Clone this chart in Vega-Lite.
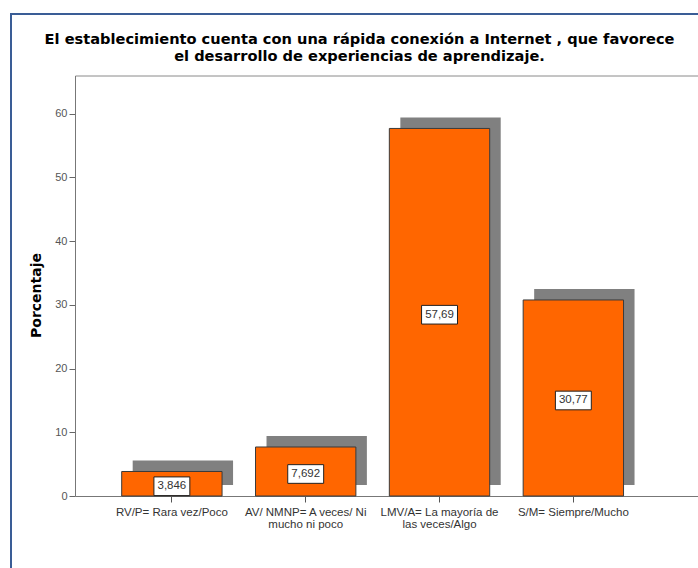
{
  "$schema": "https://vega.github.io/schema/vega-lite/v6.json",
  "width": 698,
  "height": 568,
  "autosize": {"type": "fit", "contains": "padding"},
  "padding": {"left": 11, "top": 14, "right": -10, "bottom": -10},
  "background": "white",
  "title": {
    "text": ["El establecimiento cuenta con una rápida conexión a Internet , que favorece", "el desarrollo de experiencias de aprendizaje."],
    "font": "DejaVu Sans",
    "fontSize": 14.6,
    "fontWeight": "bold",
    "color": "black",
    "anchor": "middle",
    "frame": "group",
    "offset": -50,
    "lineHeight": 17
  },
  "config": {
    "view": {"stroke": "#3a5d96", "strokeWidth": 2},
    "font": "Liberation Sans"
  },
  "data": {
    "values": [
      {"cat": "RV/P= Rara vez/Poco", "value": 3.846, "label": "3,846"},
      {"cat": "AV/ NMNP= A veces/ Ni\nmucho ni poco", "value": 7.692, "label": "7,692"},
      {"cat": "LMV/A= La mayoría de\nlas veces/Algo", "value": 57.69, "label": "57,69"},
      {"cat": "S/M= Siempre/Mucho", "value": 30.77, "label": "30,77"}
    ]
  },
  "resolve": {
    "scale": {"y": "independent"},
    "axis": {"x": "independent", "y": "independent"}
  },
  "layer": [
    {
      "mark": {"type": "bar", "color": "#808080", "xOffset": 11, "x2Offset": 11, "yOffset": -11, "y2Offset": -11},
      "encoding": {
        "x": {
          "field": "cat", "type": "nominal", "sort": null,
          "scale": {"range": [64, 697], "paddingInner": 0.25, "paddingOuter": 0.49, "align": 0.356},
          "axis": {"orient": "top", "offset": -61.5, "ticks": false, "labels": false, "domainColor": "#8a8a8a", "domainWidth": 1, "title": null, "grid": false}
        },
        "y": {
          "field": "value", "type": "quantitative",
          "scale": {"domain": [0, 66], "range": [482, 61.5], "nice": false},
          "axis": null
        }
      }
    },
    {
      "mark": {"type": "bar", "color": "#FF6600", "stroke": "#3a3a3a", "strokeWidth": 1},
      "encoding": {
        "x": {
          "field": "cat", "type": "nominal", "sort": null,
          "axis": {
            "orient": "bottom", "offset": -82, "title": null, "labelAngle": 0,
            "labelExpr": "split(datum.value, '\\n')",
            "labelFont": "Liberation Sans", "labelFontSize": 11.5, "labelColor": "#333333",
            "labelLineHeight": 12.5, "labelLimit": 0, "labelPadding": 4,
            "tickSize": 6, "tickColor": "#555555", "domainColor": "#777777", "grid": false
          }
        },
        "y": {
          "field": "value", "type": "quantitative",
          "scale": {"domain": [0, 66], "range": [482, 61.5], "nice": false},
          "axis": {
            "orient": "left", "offset": -64, "values": [0, 10, 20, 30, 40, 50, 60],
            "title": "Porcentaje", "titleFont": "DejaVu Sans", "titleFontSize": 14, "titleFontWeight": "bold", "titleColor": "black", "titlePadding": 11, "titleY": 281,
            "labelFont": "Liberation Sans", "labelFontSize": 11, "labelColor": "#555555", "labelPadding": 2,
            "tickSize": 6, "tickColor": "#666666", "domainColor": "#777777", "grid": false
          }
        }
      }
    },
    {
      "mark": {"type": "point", "shape": "M-1,-0.52H1V0.52H-1Z", "size": 1290, "filled": true, "fill": "white", "stroke": "#222222", "strokeWidth": 1, "opacity": 1, "yOffset": 2.5},
      "encoding": {
        "x": {"field": "cat", "type": "nominal", "sort": null, "axis": null},
        "y": {
          "field": "value", "type": "quantitative",
          "scale": {"domain": [0, 132], "range": [482, 61.5], "nice": false},
          "axis": null
        }
      }
    },
    {
      "mark": {"type": "text", "font": "Liberation Sans", "fontSize": 11.5, "color": "#333333", "baseline": "middle", "align": "center", "yOffset": 2.5},
      "encoding": {
        "x": {"field": "cat", "type": "nominal", "sort": null, "axis": null},
        "y": {
          "field": "value", "type": "quantitative",
          "scale": {"domain": [0, 132], "range": [482, 61.5], "nice": false},
          "axis": null
        },
        "text": {"field": "label"}
      }
    }
  ]
}
